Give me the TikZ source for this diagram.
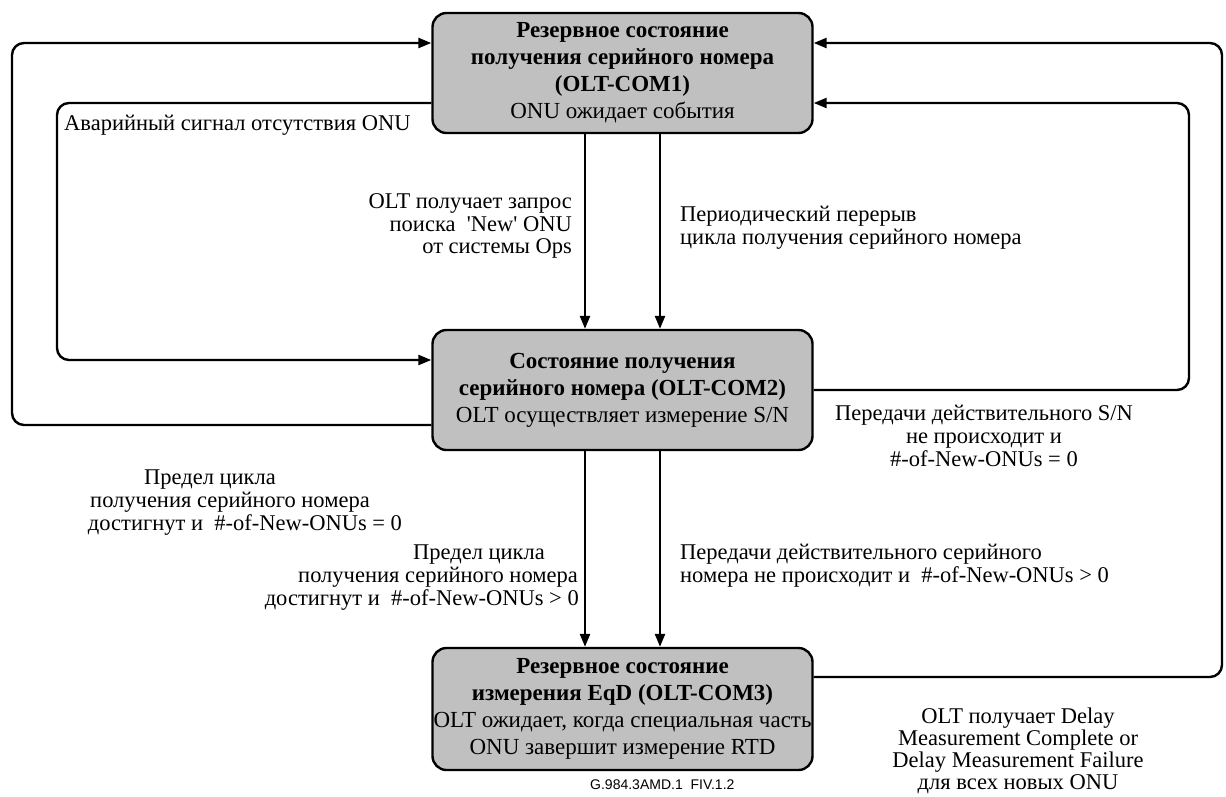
\documentclass[tikz,border=0pt]{standalone}
\usepackage{fontspec}
\setmainfont{Liberation Serif}
\newfontfamily\figsans{Liberation Sans}
\usetikzlibrary{arrows.meta}
\definecolor{boxgray}{RGB}{192,192,192}
\begin{document}
\begin{tikzpicture}[x=1pt,y=-1pt,
  state/.style={draw, line width=2.4pt, fill=boxgray, rounded corners=14pt,
    minimum width=380pt, align=center, inner sep=0pt,
    font=\fontsize{23}{27}\selectfont},
  conn/.style={line width=2.4pt, rounded corners=12pt},
  arr/.style={conn, -{Triangle[length=13pt,width=10pt]}},
  lbl/.style={inner sep=0pt, font=\fontsize{22.5}{23}\selectfont}]
\useasboundingbox (0,0) rectangle (1226,796);

% states
\node[state, minimum height=120pt] (s1) at (622.5,73)
  {\textbf{Резервное состояние}\\\textbf{получения серийного номера}\\\textbf{(OLT-COM1)}\\ONU ожидает события};
\node[state, minimum height=120pt] (s2) at (622.5,390)
  {\textbf{Состояние получения}\\\textbf{серийного номера (OLT-COM2)}\\OLT осуществляет измерение S/N};
\node[state, minimum height=122pt] (s3) at (622.5,709)
  {\textbf{Резервное состояние}\\\textbf{измерения EqD (OLT-COM3)}\\OLT ожидает, когда специальная часть\\ONU завершит измерение RTD};

% turn points
\coordinate (oLt) at (12,43);
\coordinate (oLb) at (12,425);
\coordinate (iLt) at (57,103);
\coordinate (iLb) at (57,360);
\coordinate (iRt) at (1189,103);
\coordinate (iRb) at (1189,390);
\coordinate (oRt) at (1222,43);
\coordinate (oRb) at (1222,677);
\coordinate (va) at (585,0);
\coordinate (vb) at (660,0);

% connectors
\draw[arr] (s2.west |- oLb) -- (oLb) -- (oLt) -- (s1.west |- oLt);
\draw[arr] (s1.west |- iLt) -- (iLt) -- (iLb) -- (s2.west |- iLb);
\draw[arr] (s2.east |- iRb) -- (iRb) -- (iRt) -- (s1.east |- iRt);
\draw[arr] (s3.east |- oRb) -- (oRb) -- (oRt) -- (s1.east |- oRt);
\draw[arr] (s1.south -| va) -- (s2.north -| va);
\draw[arr] (s1.south -| vb) -- (s2.north -| vb);
\draw[arr] (s2.south -| va) -- (s3.north -| va);
\draw[arr] (s2.south -| vb) -- (s3.north -| vb);

% labels
\node[lbl, anchor=base west] (la) at (64,130) {Аварийный сигнал отсутствия ONU};

\node[lbl, anchor=base east] (lb1) at (572,208) {OLT получает запрос};
\node[lbl, anchor=base east] (lb2) at (572,231) {поиска\ \ \textquotesingle New\textquotesingle\ ONU};
\node[lbl, anchor=base east] (lb3) at (572,253) {от системы Ops};

\node[lbl, anchor=base west] (lc1) at (680,221) {Периодический перерыв};
\node[lbl, anchor=base west] (lc2) at (680,244) {цикла получения серийного номера};

\node[lbl, anchor=base] (ld1) at (210,484) {Предел цикла};
\node[lbl, anchor=base] (ld2) at (230,507) {получения серийного номера};
\node[lbl, anchor=base] (ld3) at (245,530) {достигнут и\ \ \#-of-New-ONUs = 0};

\node[lbl, anchor=base] (le1) at (984,420) {Передачи действительного S/N};
\node[lbl, anchor=base] (le2) at (984,443) {не происходит и};
\node[lbl, anchor=base] (le3) at (984,466) {\#-of-New-ONUs = 0};

\node[lbl, anchor=base] (lf1) at (479,559) {Предел цикла};
\node[lbl, anchor=base east] (lf2) at (578,582) {получения серийного номера};
\node[lbl, anchor=base east] (lf3) at (579,605) {достигнут и\ \ \#-of-New-ONUs > 0};

\node[lbl, anchor=base west] (lg1) at (680,559) {Передачи действительного серийного};
\node[lbl, anchor=base west] (lg2) at (680,582) {номера не происходит и\ \ \#-of-New-ONUs > 0};

\node[lbl, anchor=base] (lh1) at (1018,723) {OLT получает Delay};
\node[lbl, anchor=base] (lh2) at (1018,745) {Measurement Complete or};
\node[lbl, anchor=base] (lh3) at (1018,767) {Delay Measurement Failure};
\node[lbl, anchor=base] (lh4) at (1018,789) {для всех новых ONU};

\node[inner sep=0pt, anchor=base west, font=\figsans\fontsize{14}{16}\selectfont] (fig) at (590,789) {G.984.3AMD.1\ \ FIV.1.2};
\end{tikzpicture}
\end{document}
